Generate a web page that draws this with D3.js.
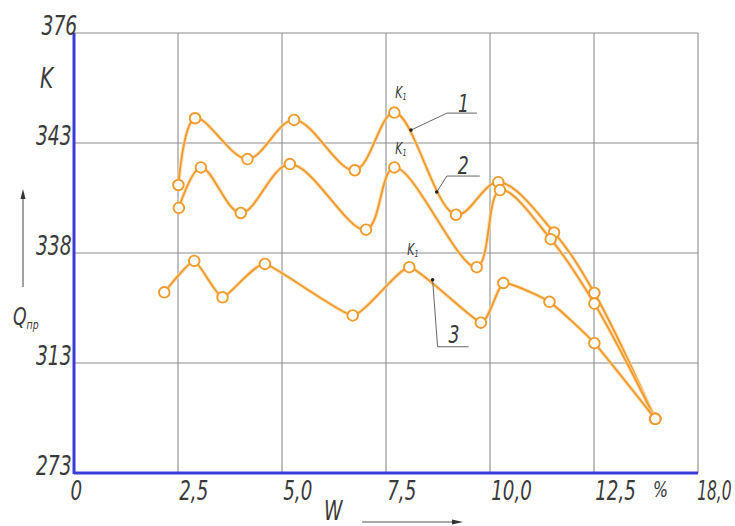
<!DOCTYPE html>
<html>
<head>
<meta charset="utf-8">
<script src="https://cdn.jsdelivr.net/npm/d3@7"></script>
<style>
  html, body { margin: 0; padding: 0; background: #fff; }
  svg { display: block; }
  .lbl { font-family: "DejaVu Sans Condensed", "DejaVu Sans", sans-serif; font-style: italic; fill: #3a3a3a; }
</style>
</head>
<body>
<svg id="chart" width="735" height="526"></svg>
<script>
// Axis ticks (the scales are piecewise: each tick sits on an evenly spaced grid line)
const wTicks = [0, 2.5, 5, 7.5, 10, 12.5, 18];
const wTickLabels = ["0", "2,5", "5,0", "7,5", "10,0", "12,5", "18,0"];
const qTicks = [273, 313, 338, 343, 376];
const qTickLabels = ["273", "313", "338", "343", "376"];

// Curve 1
const w1 = [2.51, 2.91, 4.17, 5.29, 6.75, 7.70, 9.18, 10.20, 11.54, 12.52, 15.74];
const q1 = [341.09, 350.43, 342.27, 349.93, 341.76, 352.13, 339.74, 341.22, 338.93, 328.92, 292.70];
// Curve 2
const w2 = [2.52, 3.05, 4.01, 5.19, 7.02, 7.70, 9.68, 10.24, 11.46, 12.52, 15.74];
const q2 = [340.05, 341.89, 339.82, 342.04, 339.06, 341.89, 334.78, 340.86, 338.63, 326.51, 292.70];
// Curve 3
const w3 = [2.17, 2.89, 3.57, 4.59, 6.70, 8.06, 9.78, 10.32, 11.43, 12.52, 15.74];
const q3 = [329.06, 336.20, 327.93, 335.52, 323.81, 334.78, 322.17, 331.18, 326.90, 317.51, 292.70];

// Curve numbers, the point each leader line touches, and which point carries "K1"
const curveNames = ["1", "2", "3"];
const leaderW = [8.10, 8.72, 8.62];
const leaderQ = [346.87, 340.77, 331.92];
const peakIndex = [5, 5, 5];

const plotLeft = 74, plotRight = 698, plotTop = 33, plotBottom = 473;
const svg = d3.select("#chart");

const x = d3.scaleLinear()
  .domain(wTicks)
  .range(wTicks.map((d, i) => plotLeft + i * (plotRight - plotLeft) / (wTicks.length - 1)));
const y = d3.scaleLinear()
  .domain(qTicks)
  .range(qTicks.map((d, i) => plotBottom - i * (plotBottom - plotTop) / (qTicks.length - 1)));

// Grid
const grid = svg.append("g").attr("stroke", "#8c8c8c").attr("stroke-width", 1.1);
grid.selectAll("line.v").data(wTicks.slice(1)).join("line").attr("class", "v")
  .attr("x1", d => x(d)).attr("x2", d => x(d)).attr("y1", plotTop).attr("y2", plotBottom);
grid.selectAll("line.h").data(qTicks.slice(1)).join("line").attr("class", "h")
  .attr("x1", plotLeft).attr("x2", plotRight).attr("y1", d => y(d)).attr("y2", d => y(d));

// Axes (blue)
svg.append("line").attr("x1", plotLeft).attr("x2", plotLeft).attr("y1", plotTop).attr("y2", plotBottom + 1)
  .attr("stroke", "#3a3ad6").attr("stroke-width", 3);
svg.append("line").attr("x1", plotLeft).attr("x2", plotRight).attr("y1", plotBottom).attr("y2", plotBottom)
  .attr("stroke", "#3a3ad6").attr("stroke-width", 3);

// Tick labels via d3 axes
const lastW = wTicks.length - 1;
const xAxis = svg.append("g").attr("transform", `translate(0,${plotBottom})`)
  .call(d3.axisBottom(x).tickValues(wTicks).tickSize(0).tickFormat((d, i) => wTickLabels[i]));
xAxis.select(".domain").remove();
xAxis.selectAll("text").attr("class", "lbl").attr("font-size", 26)
  .attr("text-anchor", "start").attr("y", 27).attr("dy", 0)
  .attr("transform", (d, i) => i === lastW ? "scale(0.66,1)" : "scale(0.78,1)")
  .attr("x", (d, i) => i === 0 ? -5 : (i === lastW ? -2 : 1));

const yAxis = svg.append("g").attr("transform", `translate(${plotLeft},0)`)
  .call(d3.axisLeft(y).tickValues(qTicks).tickSize(0).tickFormat((d, i) => qTickLabels[i]));
yAxis.select(".domain").remove();
yAxis.selectAll("text").attr("class", "lbl").attr("font-size", 26)
  .attr("text-anchor", "end").attr("dy", 0).attr("y", 1)
  .attr("transform", "scale(0.8,1)").attr("x", (d, i) => i === qTicks.length - 1 ? 4 : -3);

function label(txt, px, py, size, anchor) {
  return svg.append("text").attr("class", "lbl")
    .attr("transform", `translate(${px},${py}) scale(0.8,1)`)
    .attr("font-size", size).attr("text-anchor", anchor || "start").text(txt);
}

// Axis titles
label("K", 40, 88, 28);
const qt = label("Q", 13, 325, 24);
qt.append("tspan").attr("font-size", 13).attr("dy", 4).text("пр");
label("W", 324, 520, 26);
label("%", 653, 497, 22);

// Direction arrows
const arrowG = svg.append("g").attr("stroke", "#555").attr("stroke-width", 1.1);
arrowG.append("line").attr("x1", 23).attr("x2", 23).attr("y1", 287).attr("y2", 196);
svg.append("path").attr("d", "M23,189 L20.5,199 L25.5,199 Z").attr("fill", "#333");
arrowG.append("line").attr("x1", 362).attr("x2", 455).attr("y1", 522).attr("y2", 522);
svg.append("path").attr("d", "M463,522 L452,519.5 L452,524.5 Z").attr("fill", "#333");

// Curves
const series = [
  { w: w1, q: q1 }, { w: w2, q: q2 }, { w: w3, q: q3 }
].map(s => s.w.map((d, i) => ({ w: d, q: s.q[i] })));

const curveFns = [
  d3.curveCatmullRom.alpha(0.5),
  d3.curveCatmullRom.alpha(0.5),
  d3.curveCardinal.tension(0.55)
];

const orange = "#f09a2c";
series.forEach((pts, k) => {
  const line = d3.line().x(d => x(d.w)).y(d => y(d.q)).curve(curveFns[k]);
  svg.append("path").datum(pts).attr("d", line).attr("fill", "none")
    .attr("stroke", "#fbd8a6").attr("stroke-width", 4).attr("stroke-opacity", 0.7);
  svg.append("path").datum(pts).attr("d", line).attr("fill", "none")
    .attr("stroke", orange).attr("stroke-width", 1.9);
});

series.forEach(pts => {
  svg.append("g").selectAll("circle").data(pts).join("circle")
    .attr("cx", d => x(d.w)).attr("cy", d => y(d.q)).attr("r", 5.3)
    .attr("fill", "#fff").attr("stroke", orange).attr("stroke-width", 1.9);
});

// K1 labels above the peaks
const kOffsets = [[1, -15], [1, -13], [-2, -12]];
series.forEach((pts, k) => {
  const p = pts[peakIndex[k]];
  const t = label("K", x(p.w) + kOffsets[k][0], y(p.q) + kOffsets[k][1], 15);
  t.append("tspan").attr("font-size", 9).attr("dy", 2).text("1");
});

// Curve numbers with leader lines
const shelf = [
  { dx: 36, dy: -17, len: 30, ty: -9 },
  { dx: 10, dy: -16, len: 33, ty: -10 },
  { dx: 5, dy: 67, len: 31, ty: -12 }
];
curveNames.forEach((name, k) => {
  const ax = x(leaderW[k]), ay = y(leaderQ[k]);
  const s = shelf[k];
  const sx = ax + s.dx, sy = ay + s.dy;
  svg.append("polyline")
    .attr("points", `${ax},${ay} ${sx},${sy} ${sx + s.len},${sy}`)
    .attr("fill", "none").attr("stroke", "#666").attr("stroke-width", 1);
  svg.append("circle").attr("cx", ax).attr("cy", ay).attr("r", 1.8).attr("fill", "#222");
  label(name, sx + 11, sy + s.ty + 8, 24);
});
</script>
</body>
</html>
